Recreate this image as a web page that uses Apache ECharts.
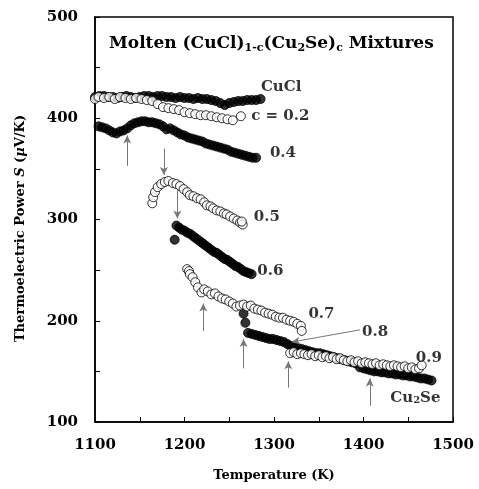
<!DOCTYPE html>
<html><head><meta charset="utf-8">
<script src="https://cdn.jsdelivr.net/npm/echarts@6/dist/echarts.min.js"></script>
<style>html,body{margin:0;padding:0;background:#fff}#c{width:479px;height:489px}</style>
</head><body><div id="c"></div>
<script>
// Temperature (K) / thermoelectric power S (uV/K) pairs
var cuclT = [1100,1105,1110,1115,1120,1125,1130,1135,1140,1145,1150,1155,1160,1165,1170,1175,1180,1185,1190,1195,1200,1205,1210,1215,1220,1225,1230,1235,1240,1245,1250,1255,1260,1265,1270,1275,1280,1285];
var cuclS = [421,422,422,421,421,420,421,422,421,420,421,422,422,421,422,422,421,421,420,421,420,420,419,420,419,419,418,417,415,413,415,416,417,417,418,418,418,419];

var c02T = [1100,1104,1110,1116,1122,1128,1134,1140,1146,1152,1158,1164,1170,1176,1182,1188,1194,1200,1206,1212,1218,1224,1230,1236,1242,1248,1254,1263];
var c02S = [419,421,420,421,419,421,420,419,420,419,418,417,414,411,410,409,408,406,405,404,403,403,402,401,400,399,398,402];

var c04T = [1104,1108,1112,1116,1120,1124,1128,1132,1136,1140,1144,1148,1152,1156,1160,1164,1168,1172,1176,1180,1184,1188,1192,1196,1200,1204,1208,1212,1216,1220,1224,1228,1232,1236,1240,1244,1248,1252,1256,1260,1264,1268,1272,1276,1280];
var c04S = [392,391,390,388,386,385,387,388,390,393,395,396,397,397,396,396,395,394,392,389,390,388,386,384,383,381,380,379,378,377,375,374,373,372,371,370,369,367,366,365,364,363,362,361,361];

var c05T = [1164,1165,1167,1170,1174,1178,1182,1187,1191,1195,1199,1203,1206,1210,1214,1218,1222,1225,1229,1232,1236,1240,1244,1247,1251,1255,1259,1262,1265,1264];
var c05S = [316,322,327,332,335,337,338,336,335,333,330,327,324,323,321,320,317,314,313,311,309,308,306,305,303,301,299,297,295,298];

var c06T = [1189,1191,1194,1197,1200,1203,1206,1209,1212,1215,1218,1221,1224,1227,1230,1233,1236,1239,1242,1245,1248,1251,1254,1257,1260,1263,1266,1269,1272,1275];
var c06S = [280,294,292,290,289,287,286,284,282,280,278,276,274,272,270,268,267,265,263,261,260,258,256,254,253,251,249,248,247,246];

var c07T = [1203,1205,1206,1209,1212,1215,1219,1222,1226,1230,1234,1238,1242,1246,1250,1254,1258,1262,1266,1270,1274,1278,1282,1286,1290,1294,1298,1302,1306,1310,1314,1318,1322,1326,1330,1331];
var c07S = [251,249,246,243,238,233,228,231,229,226,227,224,222,221,219,217,214,215,216,214,215,212,211,210,208,207,206,204,203,203,201,200,199,197,195,190];

var c08T = [1266,1268,1271,1275,1279,1283,1287,1291,1295,1299,1303,1307,1311,1315,1319,1323,1327,1331,1335,1339,1343,1347,1351,1355,1359,1363,1367,1371,1375,1379,1383,1387,1391];
var c08S = [207,198,188,187,186,185,184,183,182,182,181,180,179,177,175,174,173,172,171,170,169,168,168,167,166,165,164,163,162,161,160,159,158];

var c09T = [1318,1322,1326,1330,1334,1338,1342,1346,1350,1354,1358,1362,1366,1370,1374,1378,1382,1386,1390,1394,1398,1402,1406,1410,1414,1418,1422,1426,1430,1434,1438,1442,1446,1450,1454,1458,1462,1465];
var c09S = [168,169,167,168,167,166,167,165,166,164,165,163,164,162,163,161,160,161,159,160,158,159,158,157,158,156,157,156,155,156,155,154,155,153,154,152,153,156];

var cu2seT = [1396,1400,1404,1408,1412,1416,1420,1424,1428,1432,1436,1440,1444,1448,1452,1456,1460,1464,1468,1472,1476];
var cu2seS = [154,153,152,151,150,150,149,149,148,148,147,147,146,146,145,145,144,143,143,142,141];

// Axis ticks
var xTicks = [1100,1200,1300,1400,1500];
var yTicks = [100,200,300,400,500];

// Annotations (data units)
var labelText = ['CuCl','c = 0.2','0.4','0.5','0.6','0.7','0.8','0.9','Cu{s|2}Se'];
var labelT = [1308,1307,1310,1292,1296,1353,1413,1473,1458];
var labelS = [431,402,366,302,249,207,189,163,124];
var arrowFrom = [[1136,353],[1177,370],[1192,329],[1221,190],[1266,153],[1316,134],[1407,116],[1396,191]];
var arrowTo   = [[1136,383],[1177,344],[1192,301],[1221,217],[1266,182],[1316,160],[1407,143],[1320,179]];

function zip(a,b){return a.map(function(v,i){return [v,b[i]];});}
var FONT = 'DejaVu Serif';
function filled(name,t,s){return {name:name,type:'scatter',data:zip(t,s),symbolSize:9,itemStyle:{color:'#000',borderColor:'#000',borderWidth:1},z:2};}
function open(name,t,s){return {name:name,type:'scatter',data:zip(t,s),symbolSize:9,itemStyle:{color:'#fff',borderColor:'#000',borderWidth:1},z:3};}

var chart = echarts.init(document.getElementById('c'), null, {renderer:'canvas'});
var arrows = arrowFrom.map(function(f,i){return [{coord:f},{coord:arrowTo[i]}];});
chart.setOption({
  animation:false,
  backgroundColor:'#fff',
  title:{
    text:'Molten (CuCl){s|1-c}(Cu{s|2}Se){s|c} Mixtures',
    left:104, top:28,
    textStyle:{fontFamily:FONT,fontWeight:'bold',fontSize:17,color:'#000',lineHeight:21,
      rich:{s:{fontFamily:FONT,fontWeight:'bold',fontSize:11,lineHeight:9,verticalAlign:'bottom',color:'#000'}}}
  },
  grid:{left:95,right:26,top:17,bottom:67,show:true,borderColor:'#000',borderWidth:1.5,backgroundColor:'transparent'},
  xAxis:{type:'value',min:1100,max:1500,interval:50,
    name:'Temperature (K)',nameLocation:'middle',nameGap:47,
    nameTextStyle:{fontFamily:FONT,fontWeight:'bold',fontSize:13,color:'#000'},
    axisLine:{lineStyle:{color:'#000',width:1.5}},
    axisTick:{inside:true,length:5,lineStyle:{color:'#000'}},
    splitLine:{show:false},
    axisLabel:{margin:16,fontFamily:FONT,fontWeight:'bold',fontSize:15,color:'#000',
      formatter:function(v){return xTicks.indexOf(v)>=0?String(v):'';}}
  },
  yAxis:{type:'value',min:100,max:500,interval:50,
    name:'Thermoelectric Power {i|S} ({i|\u03bc}V/K)',nameLocation:'middle',nameGap:68,nameRotate:90,
    nameTextStyle:{fontFamily:FONT,fontWeight:'bold',fontSize:13,color:'#000',padding:[0,18,0,0],
      rich:{i:{fontFamily:FONT,fontWeight:'bold',fontStyle:'italic',fontSize:13,color:'#000'}}},
    axisLine:{show:true,lineStyle:{color:'#000',width:1.5}},
    axisTick:{show:true,inside:true,length:5,lineStyle:{color:'#000'}},
    splitLine:{show:false},
    axisLabel:{margin:17,fontFamily:FONT,fontWeight:'bold',fontSize:15,color:'#000',
      formatter:function(v){return yTicks.indexOf(v)>=0?String(v):'';}}
  },
  series:[
    filled('CuCl',cuclT,cuclS),
    filled('0.4',c04T,c04S),
    filled('0.6',c06T,c06S),
    filled('0.8',c08T,c08S),
    filled('Cu2Se',cu2seT,cu2seS),
    open('0.2',c02T,c02S),
    open('0.5',c05T,c05S),
    open('0.7',c07T,c07S),
    open('0.9',c09T,c09S),
    {name:'labels',type:'scatter',symbolSize:0,z:5,
      data:labelT.map(function(t,i){return {value:[t,labelS[i]],label:{formatter:labelText[i]}};}),
      label:{show:true,position:'inside',fontFamily:FONT,fontWeight:'bold',fontSize:15,color:'#000',
        rich:{s:{fontFamily:FONT,fontWeight:'bold',fontSize:10,lineHeight:9,verticalAlign:'bottom',color:'#000'}}},
      markLine:{silent:true,symbol:['none','arrow'],symbolSize:[6,8],
        lineStyle:{color:'#777',width:1,type:'solid'},label:{show:false},
        data:arrows}
    }
  ]
});
</script></body></html>
